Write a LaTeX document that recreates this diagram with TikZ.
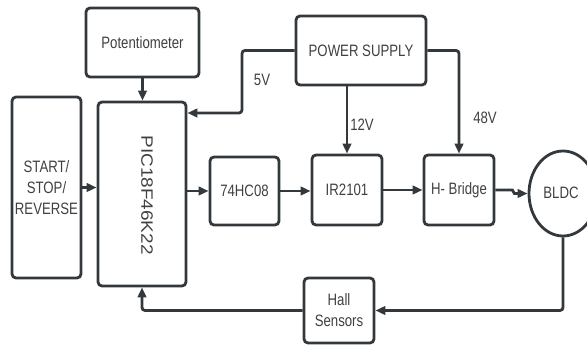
\documentclass[tikz,border=0pt]{standalone}
\usepackage{fontspec}
\setmainfont[FakeStretch=0.8]{Liberation Sans}
\newfontfamily\picfont[FakeStretch=1.15]{Liberation Sans}
\usetikzlibrary{arrows.meta,shapes.geometric,calc}
\definecolor{ln}{HTML}{33383C}
\definecolor{tx}{HTML}{404040}
\begin{document}
\begin{tikzpicture}[x=1pt,y=-1pt,
  every node/.style={font=\fontsize{16.5}{21}\selectfont, text=tx, align=center},
  blk/.style={draw=ln, line width=2.8pt, rounded corners=4pt, inner sep=0pt},
  conn/.style={draw=ln, line width=2.8pt, rounded corners=3pt, -{Triangle[length=10pt,width=8.5pt]}},
  lbl/.style={inner sep=0pt}]
\useasboundingbox (0,0) rectangle (587,347);
\clip (0,0) rectangle (587,347);
\node[blk, minimum width=113pt, minimum height=69pt] (pot) at (142.5,42.5) {Potentiometer};
\node[blk, minimum width=88pt, minimum height=184pt] (pic) at (142,194) {};
\node[text=tx, rotate=-90, inner sep=0pt, font=\fontsize{16.5}{21}\picfont] at (147,195) {PIC18F46K22};
\node[blk, minimum width=69pt, minimum height=181pt] (start) at (46.5,187.5) {START/\\STOP/\\REVERSE};
\node[blk, minimum width=130pt, minimum height=69pt] (ps) at (361,50.5) {POWER SUPPLY};
\node[blk, minimum width=69pt, minimum height=68pt] (hc) at (244.5,191) {74HC08};
\node[blk, minimum width=70pt, minimum height=70pt] (ir) at (347,190) {IR2101};
\node[blk, minimum width=70pt, minimum height=70pt] (hb) at (459,190) {H- Bridge};
\node[draw=ln, line width=2.8pt, ellipse, minimum width=68pt, minimum height=85pt, inner sep=0pt] (bldc) at (563,193.5) {};
\node at (561,193) {BLDC};
\node[blk, minimum width=70pt, minimum height=65pt] (hall) at (339,310.5) {Hall\\Sensors};
\coordinate (j5) at (242,113);
\draw[conn] (pot.south) -- (pot.south |- pic.north);
\draw[conn] (ps.west) -| (j5) -- (j5 -| pic.east);
\draw[conn] (ir.north |- ps.south) -- (ir.north);
\draw[conn] (ps.east) -| (hb.north);
\draw[conn] (start.east) -- (start.east -| pic.west);
\draw[conn] (pic.east |- hc.west) -- (hc.west);
\draw[conn] (hc.east) -- (hc.east -| ir.west);
\draw[conn] (ir.east) -- (hb.west);
\draw[conn, rounded corners=0pt] (hb.east) -- ++(17,0) -- ++(2,3.5) -- (bldc.west);
\draw[conn] (bldc.south) |- (hall.east);
\draw[conn] (hall.west) -| (pic.south);
\node[lbl] at (262,80) {5V};
\node[lbl] at (362,125) {12V};
\node[lbl] at (485,118) {48V};
\end{tikzpicture}
\end{document}
